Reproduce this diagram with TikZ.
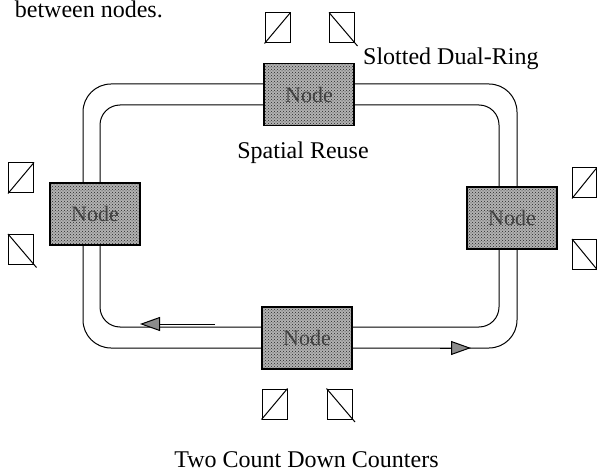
\documentclass[tikz,border=0pt]{standalone}
\usepackage{fontspec}
\setmainfont{Liberation Serif}
\usetikzlibrary{arrows.meta,patterns}
\begin{document}
\begin{tikzpicture}[x=1pt,y=-1pt,
  ringline/.style={line width=1pt,line cap=round},
  ringnode/.style={draw,line width=1.1pt,minimum width=90pt,minimum height=62pt,inner sep=0pt,
    preaction={fill=black!30},pattern=crosshatch dots,pattern color=black!85,
    text=black!75,font=\fontsize{22}{24}\selectfont},
  ctr/.style={draw,line width=1pt,minimum width=25pt,minimum height=30pt,inner sep=0pt},
  lbl/.style={font=\fontsize{24}{28}\selectfont,inner sep=0pt},
  arr/.style={line width=1pt,-{Triangle[length=20pt,width=14pt,fill=black!45]}}]
\useasboundingbox (0,0) rectangle (597,473);
\node[lbl,anchor=base east] (prev) at (163,17.5) {between nodes.};
% nodes
\node[ringnode] (T) at (309,94.5) {Node};
\node[ringnode] (L) at (95,214) {Node};
\node[ringnode] (R) at (512,218) {Node};
\node[ringnode] (B) at (307,338) {Node};
% ring coordinates
\coordinate (OTL) at (83,84);  \coordinate (OTR) at (517,84);
\coordinate (OBL) at (83,348); \coordinate (OBR) at (517,348);
\coordinate (ITL) at (100,105); \coordinate (ITR) at (499,105);
\coordinate (IBL) at (100,327); \coordinate (IBR) at (499,327);
% outer ring
\draw[ringline,rounded corners=28pt] (T.west |- OTL) -| (L.north -| OTL);
\draw[ringline,rounded corners=28pt] (T.east |- OTR) -| (R.north -| OTR);
\draw[ringline,rounded corners=28pt] (B.west |- OBL) -| (L.south -| OBL);
\draw[ringline,rounded corners=28pt] (B.east |- OBR) -| (R.south -| OBR);
% inner ring
\draw[ringline,rounded corners=20pt] (T.west |- ITL) -| (L.north -| ITL);
\draw[ringline,rounded corners=20pt] (T.east |- ITR) -| (R.north -| ITR);
\draw[ringline,rounded corners=20pt] (B.west |- IBL) -| (L.south -| IBL);
\draw[ringline,rounded corners=20pt] (B.east |- IBR) -| (R.south -| IBR);
% direction arrows
\coordinate (a1s) at (215,324); \coordinate (a1e) at (140,324);
\draw[arr] (a1s) -- (a1e);
\coordinate (a2s) at (440,348); \coordinate (a2e) at (471,348);
\draw[arr] (a2s) -- (a2e);
% counters
\node[ctr] (t1) at (277.5,28) {};
\node[ctr] (t2) at (342,28) {};
\node[ctr] (l1) at (21,178) {};
\node[ctr] (l2) at (21,249.5) {};
\node[ctr,minimum width=24pt] (r1) at (584.5,183) {};
\node[ctr,minimum width=24pt] (r2) at (584.5,254.5) {};
\node[ctr] (b1) at (274.5,404) {};
\node[ctr] (b2) at (339.5,404) {};
\foreach \n in {t1,l1,r1,b1}{\draw[line width=1pt] (\n.south west) -- (\n.north east);}
\foreach \n in {t2,l2,r2,b2}{\draw[line width=1pt] (\n.north west) -- ([shift={(2.5pt,-2.5pt)}]\n.south east);}
% labels
\node[lbl,anchor=base west] (sdr) at (363,65) {Slotted Dual-Ring};
\node[lbl,anchor=base] (sr) at (303,159) {Spatial Reuse};
\node[lbl,anchor=base] (tc) at (306.5,467) {Two Count Down Counters};
\end{tikzpicture}
\end{document}
